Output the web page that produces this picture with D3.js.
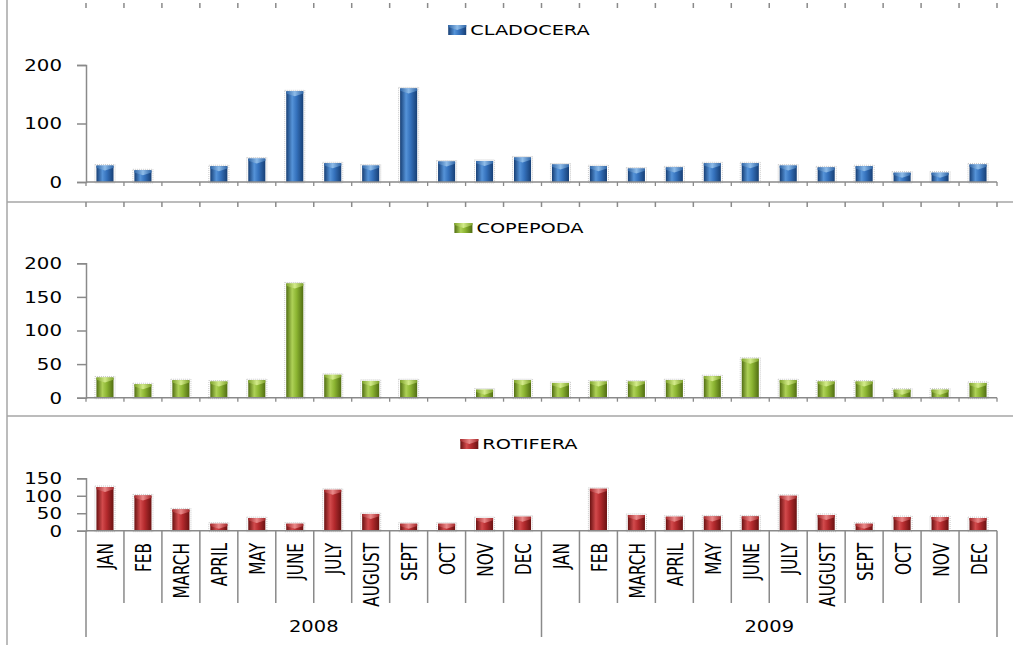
<!DOCTYPE html>
<html>
<head>
<meta charset="utf-8">
<script src="https://cdn.jsdelivr.net/npm/d3@7"></script>
<style>
  html, body { margin: 0; padding: 0; background: #fff; }
  svg { display: block; }
</style>
</head>
<body>
<svg id="chart" width="1013" height="645"></svg>
<script>
// ---------------- DATA ----------------
const months = ["JAN","FEB","MARCH","APRIL","MAY","JUNE","JULY","AUGUST","SEPT","OCT","NOV","DEC"];
const years = ["2008","2009"];
const seriesNames = ["CLADOCERA","COPEPODA","ROTIFERA"];
const cladocera = [28,20,0,27,40,155,32,28,160,35,36,42, 30,27,23,25,32,32,28,25,27,16,16,30];
const copepoda  = [30,20,26,24,26,170,34,25,26,0,12,26, 22,24,24,26,32,58,26,24,24,12,12,22];
const rotifera  = [125,101,61,20,36,20,117,48,20,20,36,40, 0,120,45,40,41,41,100,45,20,39,39,36];
const cladoceraTicks = [0,100,200];
const copepodaTicks = [0,50,100,150,200];
const rotiferaTicks = [0,50,100,150];

// ---------------- LAYOUT ----------------
const svg = d3.select("#chart");
const W = 1013, H = 645;
const plotL = 86, plotR = 997;
const categories = [];
years.forEach(y => months.forEach(m => categories.push({year: y, month: m})));
const n = categories.length;

const xb = d3.scaleLinear().domain([0, n]).range([plotL, plotR]);
const xBand = d3.scaleBand().domain(d3.range(n)).range([plotL, plotR])
  .paddingInner(0.55).paddingOuter(0.275);

const axisColor = "#8a8a8a";
const borderColor = "#a6a6a6";

const panels = [
  {name: seriesNames[0], values: cladocera, ticks: cladoceraTicks, max: 200, y0: 182, y1: 65,
   legendY: 35, topTicksY: 3,
   col: {dark:"#173f75", mid:"#3572bd", light:"#5593d8", cap:"#8ebce9", capEdge:"#2f66a8"}},
  {name: seriesNames[1], values: copepoda, ticks: copepodaTicks, max: 200, y0: 397.7, y1: 263.3,
   legendY: 233, topTicksY: 202,
   col: {dark:"#516e12", mid:"#8cb532", light:"#aed157", cap:"#d3eb8a", capEdge:"#7fa42a"}},
  {name: seriesNames[2], values: rotifera, ticks: rotiferaTicks, max: 150, y0: 530.7, y1: 478.3,
   legendY: 449, topTicksY: null,
   col: {dark:"#6a1212", mid:"#b42a2d", light:"#d24a4c", cap:"#eb8a8a", capEdge:"#a52629"}}
];

const defs = svg.append("defs");
panels.forEach((p, i) => {
  const g = defs.append("linearGradient").attr("id", "grad" + i)
    .attr("x1", "0%").attr("x2", "100%").attr("y1", "0%").attr("y2", "0%");
  g.append("stop").attr("offset", "0%").attr("stop-color", p.col.dark);
  g.append("stop").attr("offset", "35%").attr("stop-color", p.col.light);
  g.append("stop").attr("offset", "60%").attr("stop-color", p.col.mid);
  g.append("stop").attr("offset", "100%").attr("stop-color", p.col.dark);
  const c = defs.append("linearGradient").attr("id", "cap" + i)
    .attr("x1", "0%").attr("x2", "100%").attr("y1", "0%").attr("y2", "0%");
  c.append("stop").attr("offset", "0%").attr("stop-color", p.col.capEdge);
  c.append("stop").attr("offset", "50%").attr("stop-color", p.col.cap);
  c.append("stop").attr("offset", "100%").attr("stop-color", p.col.capEdge);
});

svg.append("rect").attr("width", W).attr("height", H).attr("fill", "#fff");

// borders
svg.append("line").attr("x1", 7).attr("x2", 7).attr("y1", 0).attr("y2", H)
  .attr("stroke", borderColor).attr("stroke-width", 1.5);
[202, 416].forEach(y => {
  svg.append("line").attr("x1", 7).attr("x2", W).attr("y1", y).attr("y2", y)
    .attr("stroke", borderColor).attr("stroke-width", 1.5);
});

const fontMain = "'DejaVu Sans', Verdana, sans-serif";

panels.forEach((p, i) => {
  const y = d3.scaleLinear().domain([0, p.max]).range([p.y0, p.y1]);
  const g = svg.append("g");

  // top tick row
  if (p.topTicksY !== null) {
    g.selectAll(".tt").data(d3.range(n + 1)).join("line")
      .attr("x1", d => xb(d)).attr("x2", d => xb(d))
      .attr("y1", p.topTicksY).attr("y2", p.topTicksY + 5)
      .attr("stroke", axisColor).attr("stroke-width", 1.5);
  }

  // bars shadow
  g.selectAll(".sh").data(p.values.map((v, k) => ({v, k})).filter(d => d.v > 0)).join("rect")
    .attr("x", d => xBand(d.k) - 1.5).attr("width", xBand.bandwidth() + 3)
    .attr("y", d => y(d.v) - 1).attr("height", d => y(0) - y(d.v) + 2)
    .attr("fill", "none").attr("stroke", "#c8c8c8").attr("stroke-width", 1)
    .attr("stroke-dasharray", "1,1");

  // bars
  const bars = g.selectAll(".bar").data(p.values.map((v, k) => ({v, k})).filter(d => d.v > 0)).join("g");
  bars.append("rect")
    .attr("x", d => xBand(d.k)).attr("width", xBand.bandwidth())
    .attr("y", d => y(d.v)).attr("height", d => y(0) - y(d.v))
    .attr("fill", "url(#grad" + i + ")");
  bars.append("path")
    .attr("d", d => {
      const x0 = xBand(d.k), w = xBand.bandwidth(), t = y(d.v);
      const h = Math.min(5, y(0) - t);
      return `M${x0},${t}L${x0 + w},${t}L${x0 + w},${t + h * 0.45}L${x0 + w / 2},${t + h}L${x0},${t + h * 0.45}Z`;
    })
    .attr("fill", "url(#cap" + i + ")");

  // y axis
  const ax = g.append("g").attr("transform", `translate(${plotL},0)`)
    .call(d3.axisLeft(y).tickValues(p.ticks).tickSize(9).tickFormat(d3.format("d")));
  ax.select(".domain").attr("stroke", axisColor).attr("stroke-width", 1.5);
  ax.selectAll(".tick line").attr("stroke", axisColor).attr("stroke-width", 1.5);
  ax.selectAll(".tick text")
    .attr("x", 0).attr("dy", "0.36em")
    .attr("transform", "translate(-24,0) scale(1.32,1)")
    .attr("fill", "#000").attr("font-size", 15).attr("font-family", fontMain)
    .attr("text-anchor", "end");

  // x axis line
  g.append("line").attr("x1", plotL).attr("x2", plotR).attr("y1", y(0)).attr("y2", y(0))
    .attr("stroke", axisColor).attr("stroke-width", 1.5);
  if (i < 2) {
    g.selectAll(".xt").data(d3.range(n + 1)).join("line")
      .attr("x1", d => xb(d)).attr("x2", d => xb(d))
      .attr("y1", y(0)).attr("y2", y(0) + 4)
      .attr("stroke", axisColor).attr("stroke-width", 1.3);
  }

  // legend
  const lg = g.append("g");
  const lt = lg.append("text").attr("font-family", fontMain).attr("font-size", 14)
    .attr("fill", "#000").text(p.name);
  const tw = lt.node().getComputedTextLength() * 1.38;
  const mw = 18, gap = 4;
  const total = mw + gap + tw;
  const lx = 519 - total / 2;
  lt.attr("transform", `translate(${lx + mw + gap},${p.legendY}) scale(1.38,1)`);
  lg.append("rect").attr("x", lx).attr("y", p.legendY - 10).attr("width", mw).attr("height", 10)
    .attr("fill", "url(#grad" + i + ")");
  lg.append("path")
    .attr("d", `M${lx},${p.legendY - 10}L${lx + mw},${p.legendY - 10}L${lx + mw},${p.legendY - 8}L${lx + mw / 2},${p.legendY - 5}L${lx},${p.legendY - 8}Z`)
    .attr("fill", "url(#cap" + i + ")");
});

// bottom category axis
const baseY = 530.7;
const gx = svg.append("g");
gx.selectAll(".cl").data(d3.range(n + 1)).join("line")
  .attr("x1", d => xb(d)).attr("x2", d => xb(d))
  .attr("y1", baseY).attr("y2", d => (d % 12 === 0) ? 637 : 603)
  .attr("stroke", axisColor).attr("stroke-width", 1.5);

gx.selectAll(".ml").data(categories).join("text")
  .attr("transform", (d, k) => `translate(${xb(k + 0.5) + 8.5},543) rotate(-90) scale(1,1.2)`)
  .attr("text-anchor", "end")
  .attr("font-family", "'Liberation Sans Narrow', 'DejaVu Sans Condensed', 'Arial Narrow', sans-serif")
  .attr("font-size", 17)
  .attr("fill", "#000")
  .text(d => d.month);

gx.selectAll(".yl").data(years).join("text")
  .attr("transform", (d, k) => `translate(${xb(k * 12 + 6)},632) scale(1.3,1)`)
  .attr("text-anchor", "middle")
  .attr("font-family", fontMain).attr("font-size", 15).attr("fill", "#000")
  .text(d => d);
</script>
</body>
</html>
